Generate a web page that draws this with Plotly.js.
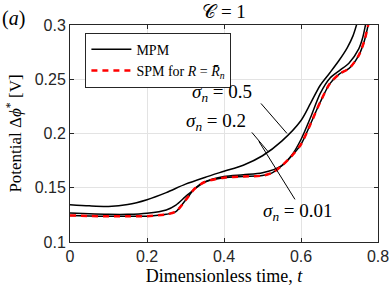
<!DOCTYPE html>
<html>
<head>
<meta charset="utf-8">
<script src="https://cdn.plot.ly/plotly-3.0.1.min.js"></script>
<style>html,body{margin:0;padding:0;background:#fff;}#chart{width:390px;height:290px;}</style>
</head>
<body>
<div id="chart"></div>
<script>
// Dimensionless time and potential values
const tTop = [0, 0.05, 0.1, 0.15, 0.2, 0.25, 0.3, 0.35, 0.4, 0.45, 0.5, 0.55, 0.6, 0.625, 0.65, 0.675, 0.7, 0.72, 0.735, 0.745];
const vTop = [0.1344, 0.1333, 0.1328, 0.1345, 0.1390, 0.1455, 0.1533, 0.1595, 0.1652, 0.1708, 0.1795, 0.1930, 0.2120, 0.2280, 0.2445, 0.2560, 0.2680, 0.2790, 0.2900, 0.3010];

const tMid = [0, 0.05, 0.1, 0.15, 0.2, 0.25, 0.275, 0.3, 0.325, 0.35, 0.4, 0.45, 0.5, 0.55, 0.575, 0.6, 0.625, 0.65, 0.675, 0.7, 0.725, 0.75, 0.76, 0.768];
const vMid = [0.1268, 0.1260, 0.1255, 0.1255, 0.1265, 0.1295, 0.1340, 0.1418, 0.1493, 0.1553, 0.1603, 0.1620, 0.1638, 0.1705, 0.1795, 0.1945, 0.2150, 0.2370, 0.2510, 0.2580, 0.2650, 0.2780, 0.2880, 0.3010];

const tLow = [0, 0.05, 0.1, 0.15, 0.2, 0.25, 0.275, 0.3, 0.325, 0.35, 0.4, 0.45, 0.5, 0.525, 0.55, 0.575, 0.6, 0.625, 0.65, 0.675, 0.7, 0.725, 0.75, 0.765, 0.775];
const vLow = [0.1245, 0.1240, 0.1237, 0.1237, 0.1238, 0.1255, 0.1280, 0.1385, 0.1495, 0.1553, 0.1593, 0.1603, 0.1612, 0.1637, 0.1703, 0.1790, 0.1900, 0.2090, 0.2290, 0.2460, 0.2550, 0.2600, 0.2720, 0.2860, 0.3010];

const tSpm = tLow;
const vSpm = [0.1245, 0.1240, 0.1237, 0.1237, 0.1238, 0.1255, 0.1280, 0.1385, 0.1495, 0.1553, 0.1593, 0.1603, 0.1612, 0.1637, 0.1703, 0.1790, 0.1900, 0.2090, 0.2290, 0.2460, 0.2550, 0.2600, 0.2720, 0.2860, 0.3010];

const xTicks = [0, 0.2, 0.4, 0.6, 0.8];
const xTickText = ['0', '0.2', '0.4', '0.6', '0.8'];
const yTicks = [0.1, 0.15, 0.2, 0.25, 0.3];
const yTickText = ['0.1', '0.15', '0.2', '0.25', '0.3'];

const serif = '"Liberation Serif", "DejaVu Serif", serif';
const sans = '"Liberation Sans", "DejaVu Sans", sans-serif';
const blk = {color: '#000000', width: 1.5, shape: 'spline', smoothing: 0.8};

const traces = [
  {x: tTop, y: vTop, mode: 'lines', line: blk, name: 'MPM', showlegend: true, legendrank: 1},
  {x: tMid, y: vMid, mode: 'lines', line: blk, showlegend: false},
  {x: tLow, y: vLow, mode: 'lines', line: blk, showlegend: false},
  {x: tSpm, y: vSpm, mode: 'lines', line: {color: '#ff0000', width: 2.5, dash: '6px,5px', shape: 'spline', smoothing: 0.8},
   name: 'SPM for <i>R</i> = <i>R\u0304</i><sub><i>n</i></sub>', showlegend: true, legendrank: 2}
];

const axisCommon = {
  showline: true, linecolor: '#262626', linewidth: 1, mirror: 'ticks',
  ticks: 'inside', ticklen: 4, tickcolor: '#262626',
  showgrid: true, gridcolor: '#e3e3e3', gridwidth: 1, zeroline: false,
  tickfont: {family: sans, size: 16, color: '#262626'}
};

const layout = {
  width: 390, height: 290,
  margin: {l: 70, r: 12, t: 24.5, b: 48},
  paper_bgcolor: '#ffffff', plot_bgcolor: '#ffffff',
  showlegend: true,
  legend: {x: 0.05, y: 0.965, xanchor: 'left', yanchor: 'top', bgcolor: '#ffffff',
           bordercolor: '#262626', borderwidth: 1, font: {family: serif, size: 14, color: '#000'},
           tracegroupgap: 0, itemwidth: 40},
  title: {text: '\ud835\udc9e = 1', font: {family: serif, size: 19, color: '#000'}, x: 0.5, xref: 'paper', y: 0.96, yanchor: 'middle'},
  xaxis: Object.assign({}, axisCommon, {range: [0, 0.8], tickvals: xTicks, ticktext: xTickText,
    title: {text: 'Dimensionless time, <i>t</i>', font: {family: serif, size: 18, color: '#000'}, standoff: 5}}),
  yaxis: Object.assign({}, axisCommon, {range: [0.1, 0.3], tickvals: yTicks, ticktext: yTickText,
    title: {text: 'Potential \u0394<i>\u03d5</i><sup>*</sup> [V]', font: {family: serif, size: 17, color: '#000'}, standoff: 8}}),
  annotations: [
    {text: '(<i>a</i>)', xref: 'paper', yref: 'paper', x: -0.228, y: 1.03, xanchor: 'left', yanchor: 'middle', showarrow: false, font: {family: serif, size: 20, color: '#000'}},
    {text: '<i>\u03c3</i><sub><i>n</i></sub> = 0.5', x: 0.394, y: 0.2375, xref: 'x', yref: 'y', showarrow: false, font: {family: serif, size: 19, color: '#000'}},
    {text: '<i>\u03c3</i><sub><i>n</i></sub> = 0.2', x: 0.379, y: 0.211, xref: 'x', yref: 'y', showarrow: false, font: {family: serif, size: 19, color: '#000'}},
    {text: '<i>\u03c3</i><sub><i>n</i></sub> = 0.01', x: 0.592, y: 0.128, xref: 'x', yref: 'y', showarrow: false, font: {family: serif, size: 19, color: '#000'}}
  ],
  shapes: [
    {type: 'line', xref: 'x', yref: 'y', x0: 0.496, y0: 0.2277, x1: 0.5635, y1: 0.2001, line: {color: '#000', width: 1}},
    {type: 'line', xref: 'x', yref: 'y', x0: 0.4724, y0: 0.201, x1: 0.514, y1: 0.1835, line: {color: '#000', width: 1}},
    {type: 'line', xref: 'x', yref: 'y', x0: 0.5843, y0: 0.1393, x1: 0.4906, y1: 0.1927, line: {color: '#000', width: 1}}
  ]
};

Plotly.newPlot('chart', traces, layout, {displayModeBar: false, staticPlot: true});
</script>
</body>
</html>
